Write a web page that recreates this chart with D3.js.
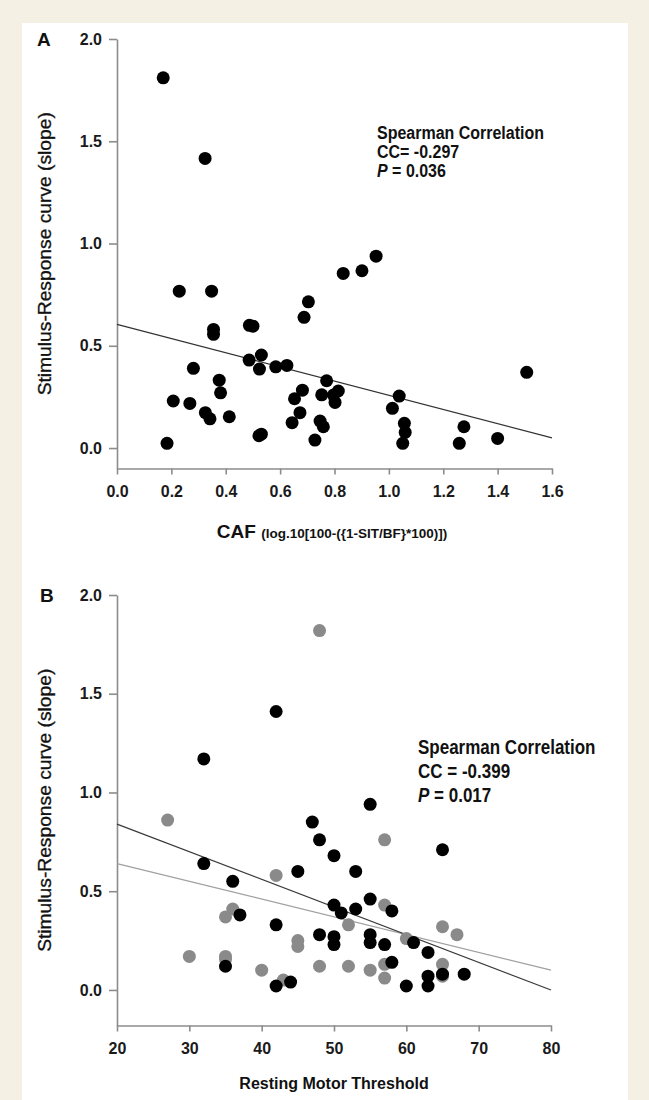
<!DOCTYPE html>
<html><head><meta charset="utf-8">
<script src="https://cdn.jsdelivr.net/npm/d3@7"></script>
<style>
html,body{margin:0;padding:0;background:#f4f1e4;}
svg{display:block;}
text{font-family:"Liberation Sans",Arial,sans-serif;}
</style></head>
<body>
<svg id="chart" width="649" height="1100"></svg>
<script>
// ---- Panel A data ----
const cafValues = [0.17,0.324,0.229,0.348,0.355,0.355,0.487,0.50,0.704,0.688,0.486,0.531,0.524,0.584,0.625,0.281,0.376,0.381,0.207,0.268,0.325,0.342,0.413,0.184,0.522,0.531,0.771,0.682,0.653,0.753,0.673,0.644,0.747,0.759,0.728,0.832,0.901,0.953,1.507,0.796,0.814,0.802,1.038,1.013,1.057,1.06,1.051,1.276,1.259,1.40];
const slopeA    = [1.81,1.416,0.767,0.767,0.58,0.556,0.60,0.596,0.715,0.639,0.43,0.455,0.386,0.397,0.404,0.39,0.332,0.27,0.23,0.218,0.173,0.143,0.153,0.023,0.06,0.068,0.329,0.283,0.241,0.26,0.173,0.124,0.132,0.104,0.039,0.854,0.867,0.938,0.37,0.259,0.279,0.223,0.254,0.194,0.121,0.077,0.023,0.104,0.023,0.047];
const fitAx = [0, 1.6];
const fitAy = [0.605, 0.05];
const xTicksA = [0,0.2,0.4,0.6,0.8,1.0,1.2,1.4,1.6];
const yTicks = [0,0.5,1.0,1.5,2.0];

// ---- Panel B data ----
const rmtBlack   = [32,42,32,36,37,45,47,48,42,48,35,42,44,50,50,50,55,65,53,50,51,53,55,58,55,55,57,61,63,58,60,63,63,65,68];
const slopeBlack = [1.17,1.41,0.64,0.55,0.38,0.60,0.85,0.76,0.33,0.28,0.12,0.02,0.04,0.68,0.27,0.23,0.94,0.71,0.60,0.43,0.39,0.41,0.46,0.40,0.28,0.24,0.23,0.24,0.19,0.14,0.02,0.07,0.02,0.08,0.08];
const rmtGray    = [48,27,36,35,42,45,45,30,35,35,40,43,48,57,57,52,60,65,67,52,55,57,57,65,65];
const slopeGray  = [1.82,0.86,0.41,0.37,0.58,0.25,0.22,0.17,0.17,0.155,0.10,0.05,0.12,0.76,0.43,0.33,0.26,0.32,0.28,0.12,0.10,0.13,0.06,0.13,0.07];
const fitBlackX = [20, 80], fitBlackY = [0.84, 0.0];
const fitGrayX  = [20, 80], fitGrayY  = [0.64, 0.10];
const xTicksB = [20,30,40,50,60,70,80];

const svg = d3.select("#chart");
svg.append("rect").attr("x",22).attr("y",23).attr("width",606).attr("height",1077).attr("fill","#ffffff");

const AXC = "#8c8c8c";
function drawPanel(o){
  const g = svg.append("g");
  const x = d3.scaleLinear().domain(o.xDomain).range([117, o.xRight]);
  const y = d3.scaleLinear().domain(o.yDomain).range(o.yRange);
  const ya = g.append("g").attr("transform","translate(117,0)")
    .call(d3.axisLeft(y).tickValues(yTicks).tickFormat(d3.format(".1f")).tickSize(8).tickSizeOuter(0).tickPadding(7));
  const xa = g.append("g").attr("transform",`translate(0,${y(o.yDomain[0])})`)
    .call(d3.axisBottom(x).tickValues(o.xTicks).tickFormat(o.xFormat).tickSize(6).tickSizeOuter(0).tickPadding(11));
  [ya,xa].forEach(a=>{
    a.selectAll("path,line").attr("stroke",AXC).attr("stroke-width",1.6);
    a.selectAll("text").attr("fill","#1a1a1a").attr("font-weight","bold").attr("font-size",16)
      .attr("font-family","'Liberation Sans',Arial,sans-serif");
  });
  o.fits.forEach(f=>{
    g.append("line").attr("x1",x(f.x[0])).attr("y1",y(f.y[0])).attr("x2",x(f.x[1])).attr("y2",y(f.y[1]))
      .attr("stroke",f.color).attr("stroke-width",1.2);
  });
  o.series.forEach(s=>{
    g.append("g").selectAll("circle").data(s.xs.map((v,i)=>[v,s.ys[i]])).join("circle")
      .attr("cx",d=>x(d[0])).attr("cy",d=>y(d[1])).attr("r",6.5).attr("fill",s.color);
  });
  g.append("text").attr("x",o.letterX).attr("y",y(2)+7).attr("font-size",19).attr("font-weight","bold").attr("fill","#111").text(o.letter);
  g.append("text").attr("transform",`translate(51,${(y(2)+y(o.yDomain[0]))/2}) rotate(-90) scale(1.1,1)`)
    .attr("text-anchor","middle").attr("font-size",17.5).attr("fill","#111").attr("stroke","#111").attr("stroke-width",0.3)
    .text("Stimulus-Response curve (slope)");
  const t = g.append("text").attr("transform",`translate(${o.annX},${o.annY}) scale(1,${o.annSY})`).attr("font-weight","bold").attr("font-size",o.annFS).attr("fill","#111");
  t.append("tspan").attr("x",0).attr("y",0).text("Spearman Correlation");
  t.append("tspan").attr("x",0).attr("dy",o.annDY).text(o.cc);
  t.append("tspan").attr("x",0).attr("dy",o.annDY).attr("font-style","italic").text("P");
  t.append("tspan").text(o.p);
  return {x,y,g};
}

const A = drawPanel({
  xDomain:[0,1.6], xRight:552, yDomain:[-0.1,2.0], yRange:[468.5,39],
  xTicks:xTicksA, xFormat:d3.format(".1f"),
  fits:[{x:fitAx,y:fitAy,color:"#333"}],
  series:[{xs:cafValues,ys:slopeA,color:"#000"}],
  letter:"A", letterX:37,
  annX:377, annY:139, annSY:1.12, annFS:16, annDY:17, cc:"CC= -0.297", p:" = 0.036"
});
const tA = A.g.append("text").attr("x",332).attr("y",538).attr("text-anchor","middle").attr("font-weight","bold").attr("fill","#111");
tA.append("tspan").attr("font-size",19).text("CAF ");
tA.append("tspan").attr("font-size",13.5).text("(log.10[100-({1-SIT/BF}*100)])");

const B = drawPanel({
  xDomain:[20,80], xRight:551, yDomain:[-0.18,2.0], yRange:[1025.5,595],
  xTicks:xTicksB, xFormat:d3.format("d"),
  fits:[{x:fitGrayX,y:fitGrayY,color:"#a0a0a0"},{x:fitBlackX,y:fitBlackY,color:"#3a3a3a"}],
  series:[{xs:rmtGray,ys:slopeGray,color:"#8a8a8a"},{xs:rmtBlack,ys:slopeBlack,color:"#000"}],
  letter:"B", letterX:40,
  annX:418, annY:754, annSY:1.2, annFS:17, annDY:20, cc:"CC = -0.399", p:" = 0.017"
});
B.g.append("text").attr("x",334).attr("y",1089).attr("text-anchor","middle").attr("font-weight","bold").attr("font-size",16).attr("fill","#111").text("Resting Motor Threshold");
</script>
</body></html>
